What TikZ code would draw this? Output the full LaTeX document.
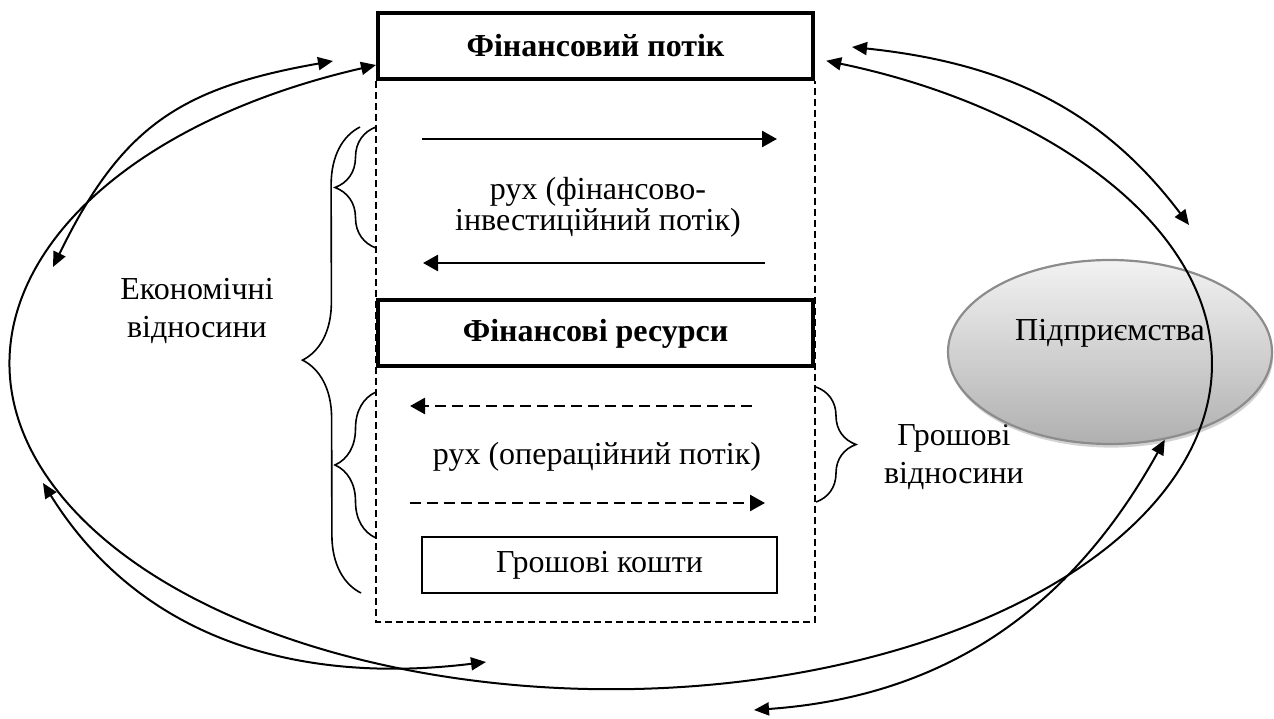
\documentclass[tikz,border=0pt]{standalone}
\usepackage{fontspec}
\setmainfont{Liberation Serif}
\usepackage{tikz}
\usetikzlibrary{shapes,arrows.meta,decorations.pathreplacing,shadows}
\tikzstyle{stage} = [rectangle, draw, line width=2pt, fill=white, text centered, minimum width=217.5pt, minimum height=33pt, font=\fontsize{16}{19}\selectfont\bfseries]
\tikzstyle{asset} = [rectangle, draw, line width=0.7pt, minimum width=177.5pt, minimum height=28pt]
\tikzstyle{entity} = [ellipse, draw=gray!90, line width=1.1pt, top color=gray!10, bottom color=gray!62, minimum width=162pt, minimum height=92pt, drop shadow={shadow xshift=0.6pt, shadow yshift=-1.8pt, fill=gray!70, opacity=0.5}]
\tikzstyle{pane} = [draw, line width=0.7pt, dash pattern=on 3.5pt off 2pt]
\tikzstyle{flowline} = [draw, line width=1.3pt, -{Triangle[length=7.5pt,width=8pt]}]
\tikzstyle{cashline} = [flowline, dash pattern=on 5.5pt off 3pt]
\tikzstyle{relation} = [draw, line width=1pt, {Triangle[length=7.5pt,width=6.5pt]}-{Triangle[length=7.5pt,width=6.5pt]}]
\tikzstyle{bracket} = [draw, line width=0.8pt, decorate, decoration={brace, amplitude=20.5pt}]
\tikzstyle{caption} = [align=center]

\begin{document}
\begin{tikzpicture}[x=0.5pt, y=0.5pt, node distance=100pt, font=\fontsize{16}{19}\selectfont]
\useasboundingbox (0,0) rectangle (1274,718);
\node [stage] (flow) at (595.5,672) {Фінансовий потік};
\node [stage, below of=flow, node distance=143.75pt] (res) {Фінансові ресурси};
\node [asset, below of=res, node distance=115.75pt, xshift=2pt] (cash) {Грошові кошти};
\node [caption, below of=flow, node distance=80.5pt, xshift=1.25pt, font=\fontsize{16}{15.5}\selectfont] (finv) {рух (фінансово-\\інвестиційний потік)};
\node [caption, below of=res, node distance=61.75pt, xshift=0.75pt] (oper) {рух (операційний потік)};
\node [caption, right of=oper, node distance=178.5pt] (money) {Грошові\\відносини};
\node [caption, left of=res, node distance=199.25pt, yshift=11.25pt] (econ) {Економічні\\відносини};
\node [entity, label={[yshift=9.5pt]center:Підприємства}] (ent) at (1110,366) {};
\path [pane] (flow.south west) -- ++(0,-541) -| (flow.south east);
\coordinate (fa) at (422,579);
\coordinate (fb) at (777,579);
\coordinate (fc) at (765,455);
\coordinate (fd) at (423,455);
\coordinate (oa) at (752,312);
\coordinate (ob) at (410,312);
\coordinate (oc) at (410,215);
\coordinate (od) at (765,215);
\coordinate (a1) at (333,657);
\coordinate (a2) at (53,451);
\coordinate (c1) at (852,671);
\coordinate (c2) at (1189,493);
\coordinate (d1) at (43,235);
\coordinate (d2) at (486,56);
\coordinate (e1) at (754,8);
\path [flowline] (fa) -- (fb);
\path [flowline] (fc) -- (fd);
\path [cashline] (oa) -- (ob);
\path [cashline] (oc) -- (od);
\path [bracket] (376,470) -- (376,591);
\path [bracket] (376,180) -- (376,326);
\path [bracket, decoration={brace, amplitude=29pt}] (361,125) -- (360,591);
\path [bracket, decoration={brace, amplitude=20pt}] (816,331) -- (816,216);
\path [relation] (a1) to[out=190, in=64, looseness=1.15] (a2);
\path [relation] ([yshift=-9.5pt]flow.west) arc[start angle=113, end angle=429, x radius=300.5pt, y radius=162.5pt];
\path [relation] (c1) to[out=-6, in=127] (c2);
\path [relation] (d1) to[out=-58, in=187] (d2);
\path [relation] (e1) to[out=4, in=241] (ent.302);
\end{tikzpicture}
\end{document}
